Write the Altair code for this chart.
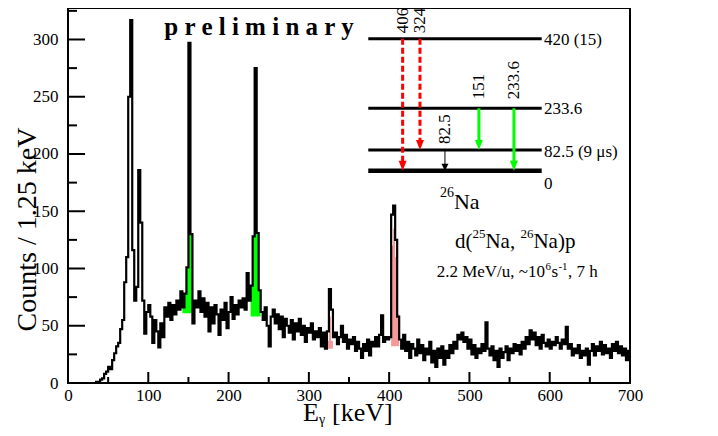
import altair as alt
import pandas as pd

FONT = "Liberation Serif"
W, H = 562, 375
X_DOMAIN = [0, 700]
Y_DOMAIN = [0, 327.5]
BIN_KEV = 2.5

# gamma spectrum, counts per bin (bins of 2.5 keV starting at 0 keV)
counts = [
    0, 0, 0, 0, 0, 0, 0, 0,
    0, 0, 0, 0, 0, 0, 1, 1,
    3, 4, 8, 10, 14, 12, 20, 26,
    32, 35, 47, 55, 88, 110, 250, 317,
    116, 72, 84, 186, 140, 72, 43, 62,
    68, 58, 35, 55, 45, 31, 52, 40,
    66, 58, 70, 55, 68, 60, 72, 64,
    80, 66, 78, 101, 297, 130, 52, 72,
    66, 80, 62, 74, 58, 70, 45, 66,
    52, 68, 60, 42, 64, 55, 70, 48,
    62, 75, 56, 68, 60, 72, 66, 74,
    64, 96, 72, 85, 128, 275, 131, 81,
    62, 55, 66, 50, 32, 58, 64, 52,
    60, 47, 58, 40, 56, 50, 44, 55,
    38, 52, 45, 56, 42, 50, 36, 48,
    44, 52, 38, 45, 40, 48, 32, 44,
    30, 45, 82, 64, 40, 44, 34, 40,
    50, 36, 42, 30, 38, 34, 40, 28,
    36, 30, 22, 34, 28, 38, 24, 36,
    32, 40, 32, 42, 59, 36, 40, 38,
    40, 147, 155, 125, 58, 38, 30, 42,
    28, 36, 22, 34, 30, 24, 38, 26,
    33, 20, 30, 25, 36, 18, 28, 14,
    30, 22, 32, 16, 28, 22, 33, 26,
    36, 30, 42, 38, 44, 36, 40, 30,
    38, 25, 33, 22, 30, 26, 34, 28,
    53, 30, 24, 32, 20, 28, 14, 30,
    22, 27, 32, 20, 30, 26, 34, 28,
    33, 25, 36, 30, 40, 34, 46, 38,
    44, 33, 40, 30, 42, 35, 32, 38,
    30, 36, 33, 40, 35, 30, 38, 34,
    49, 30, 34, 24, 30, 26, 33, 22,
    28, 24, 30, 16, 28, 34, 24, 32,
    28, 36, 25, 33, 26, 30, 22, 34,
    28, 36, 26, 32, 24, 30, 20, 28,
]

x_major = [0, 100, 200, 300, 400, 500, 600, 700]
x_minor = [50, 150, 250, 350, 450, 550, 650]
y_major = [0, 50, 100, 150, 200, 250, 300]
y_minor = [25, 75, 125, 175, 225, 275, 325]

# green gated peaks: (start keV, end keV, baseline counts)
green_regions = [(142.5, 155.0, 61), (227.5, 240.0, 58)]
# red hatched peaks
red_E = [[322.5, 325.0, 327.5], [402.5, 405.0, 407.5, 410.0]]
red_top = [[37, 58, 37], [120, 135, 110, 60]]
red_base = [30, 32]

# level scheme inset (drawn in data coordinates)
level_x = [374, 590]
level_y = [300.7, 239.9, 203.5, 185.4]
level_names = ["420 (15)", "233.6", "82.5 (9 μs)", "0"]
level_label_y = [299.6, 239.6, 201.7, 173.8]
level_label_x = 592.8

arrow_x = [416.8, 438.4, 469.5, 511.8, 555.4]
arrow_from = [300.7, 300.7, 203.5, 239.9, 239.9]
arrow_to = [185.4, 203.5, 185.4, 203.5, 185.4]
arrow_kind = ["red", "red", "black", "green", "green"]
arrow_label = ["406", "324", "82.5", "151", "233.6"]
arrow_label_y = [305.5, 305.5, 208.7, 247.8, 247.8]

xs = alt.Scale(domain=X_DOMAIN, nice=False, zero=False)
ys = alt.Scale(domain=Y_DOMAIN, nice=False, zero=False)

x_axis = alt.Axis(values=x_major, ticks=False, domain=False, grid=False,
                  labelFont=FONT, labelFontSize=17, labelColor="black",
                  labelPadding=4, title=None, format="d", labelFlush=False)
y_axis = alt.Axis(values=y_major, ticks=False, domain=False, grid=False,
                  labelFont=FONT, labelFontSize=17, labelColor="black",
                  labelPadding=10, format="d", labelFlush=False,
                  title="Counts / 1.25 keV", titleFont=FONT, titleFontSize=28,
                  titleFontWeight="normal", titleColor="black",
                  titleX=-33, titleY=221, titleAngle=270,
                  titleAlign="center", titleBaseline="alphabetic")


def X(f):
    return alt.X(f, scale=xs, axis=None)


def Y(f):
    return alt.Y(f, scale=ys, axis=None)


energies = [i * BIN_KEV for i in range(len(counts))]
spec_df = pd.DataFrame({"E": energies + [X_DOMAIN[1]], "C": counts + [counts[-1]]})

# green fills (this layer carries the axes)
grows = []
for gi, (e0, e1, base) in enumerate(green_regions):
    for e, c in zip(energies, counts):
        if e0 <= e < e1:
            grows.append({"g": gi, "E": e, "top": c, "base": base})
    grows.append({"g": gi, "E": e1, "top": grows[-1]["top"], "base": base})
green = alt.Chart(pd.DataFrame(grows)).mark_area(interpolate="step-after", color="#00ff00").encode(
    x=alt.X("E:Q", scale=xs, axis=x_axis),
    y=alt.Y("top:Q", scale=ys, axis=y_axis),
    y2="base:Q", detail="g:N")

rrows = []
for gi, (es, ts, base) in enumerate(zip(red_E, red_top, red_base)):
    for e, t in zip(es, ts):
        rrows.append({"g": gi, "E": e, "top": t, "base": base})
    rrows.append({"g": gi, "E": es[-1] + BIN_KEV, "top": ts[-1], "base": base})
red = alt.Chart(pd.DataFrame(rrows)).mark_area(interpolate="step-after", color="#f49a9a").encode(
    x=X("E:Q"), y=Y("top:Q"), y2="base:Q", detail="g:N")

line = alt.Chart(spec_df).mark_line(interpolate="step-after", color="black", strokeWidth=2.2).encode(
    x=X("E:Q"), y=Y("C:Q"))


# inward ticks
def yticks(vals, length):
    return alt.Chart(pd.DataFrame({"v": vals})).mark_rule(color="black", strokeWidth=2).encode(
        y=Y("v:Q"), x=alt.value(0), x2=alt.value(length))


def xticks(vals, length):
    return alt.Chart(pd.DataFrame({"v": vals})).mark_rule(color="black", strokeWidth=2).encode(
        x=X("v:Q"), y=alt.value(H), y2=alt.value(H - length))


ticks = [yticks(y_major, 17), yticks(y_minor, 9), xticks(x_major, 11), xticks(x_minor, 6)]

# level lines
lev_df = pd.DataFrame({"y": level_y, "x1": level_x[0], "x2": level_x[1], "w": [3, 3, 3, 4.5]})
levels = alt.Chart(lev_df).mark_rule(color="black").encode(
    x=X("x1:Q"), x2="x2:Q", y=Y("y:Q"), strokeWidth=alt.StrokeWidth("w:Q", scale=None))

PX_PER_COUNT = H / (Y_DOMAIN[1] - Y_DOMAIN[0])
arr_df = pd.DataFrame({"x": arrow_x, "y0": arrow_from, "y1": arrow_to, "k": arrow_kind,
                       "lab": arrow_label, "ly": arrow_label_y})
arr_df["head"] = [y + (5.0 if k != "black" else 3.5) / PX_PER_COUNT for y, k in zip(arr_df.y1, arr_df.k)]

TRI = "M-0.8,-1L0.8,-1L0,1Z"
TRI_B = "M-1,-1L1,-1L0,1Z"
red_shaft = alt.Chart(arr_df[arr_df.k == "red"]).mark_rule(color="#ff0000", strokeWidth=3, strokeDash=[6, 3]).encode(
    x=X("x:Q"), y=Y("y0:Q"), y2="head:Q")
green_shaft = alt.Chart(arr_df[arr_df.k == "green"]).mark_rule(color="#00ff00", strokeWidth=3).encode(
    x=X("x:Q"), y=Y("y0:Q"), y2="head:Q")
black_shaft = alt.Chart(arr_df[arr_df.k == "black"]).mark_rule(color="black", strokeWidth=1).encode(
    x=X("x:Q"), y=Y("y0:Q"), y2="head:Q")
red_head = alt.Chart(arr_df[arr_df.k == "red"]).mark_point(shape=TRI, filled=True, size=100, color="#ff0000", opacity=1).encode(
    x=X("x:Q"), y=Y("head:Q"))
green_head = alt.Chart(arr_df[arr_df.k == "green"]).mark_point(shape=TRI, filled=True, size=100, color="#00ff00", opacity=1).encode(
    x=X("x:Q"), y=Y("head:Q"))
black_head = alt.Chart(arr_df[arr_df.k == "black"]).mark_point(shape=TRI_B, filled=True, size=49, color="black", opacity=1).encode(
    x=X("x:Q"), y=Y("head:Q"))

arrow_text = alt.Chart(arr_df).mark_text(font=FONT, fontSize=17, align="left", baseline="middle", angle=270, color="black").encode(
    x=X("x:Q"), y=Y("ly:Q"), text="lab:N")

lev_text = alt.Chart(pd.DataFrame({"x": level_label_x, "y": level_label_y, "t": level_names})).mark_text(
    font=FONT, fontSize=17, align="left", baseline="middle", color="black").encode(
    x=X("x:Q"), y=Y("y:Q"), text="t:N")

# free texts (data coordinates)
texts = [
    # text, x, y, size, align, weight
    ("p r e l i m i n a r y", 237.9, 303.9, 25, "center", "bold"),
    ("Na", 480.7, 151.9, 22, "left", "normal"),
    ("26", 480.7, 162.4, 14, "right", "normal"),
    ("d(", 481.9, 117.6, 21, "left", "normal"),
    ("25", 503.7, 126.6, 13, "left", "normal"),
    ("Na,", 519.9, 117.6, 21, "left", "normal"),
    ("26", 563.5, 126.6, 13, "left", "normal"),
    ("Na)p", 579.7, 117.6, 21, "left", "normal"),
    ("2.2 MeV/u, ~10", 459.2, 92.8, 17, "left", "normal"),
    ("6", 594.6, 98.5, 11, "left", "normal"),
    ("s", 602.1, 92.8, 17, "left", "normal"),
    ("-1", 610.8, 98.5, 11, "left", "normal"),
    (", 7 h", 622.7, 92.8, 17, "left", "normal"),
]
text_layers = []
for t, x, y, s, a, w in texts:
    text_layers.append(
        alt.Chart(pd.DataFrame({"x": [x], "y": [y], "t": [t]})).mark_text(
            font=FONT, fontSize=s, align=a, baseline="alphabetic", fontWeight=w, color="black").encode(
            x=X("x:Q"), y=Y("y:Q"), text="t:N"))

# x-axis title with subscript gamma
xtitle = [
    alt.Chart(pd.DataFrame({"t": ["E"]})).mark_text(font=FONT, fontSize=26, align="left", baseline="alphabetic", color="black").encode(
        x=alt.value(235), y=alt.value(413), text="t:N"),
    alt.Chart(pd.DataFrame({"t": ["γ"]})).mark_text(font=FONT, fontSize=14, align="left", baseline="alphabetic", color="black").encode(
        x=alt.value(251), y=alt.value(416), text="t:N"),
    alt.Chart(pd.DataFrame({"t": ["[keV]"]})).mark_text(font=FONT, fontSize=26, align="left", baseline="alphabetic", color="black").encode(
        x=alt.value(264), y=alt.value(413), text="t:N"),
]

chart = alt.layer(
    green, red, line, *ticks, levels,
    red_shaft, green_shaft, black_shaft, red_head, green_head, black_head,
    arrow_text, lev_text, *text_layers, *xtitle,
).resolve_axis(x="independent", y="independent").properties(
    width=W, height=H,
    autosize=alt.AutoSizeParams(type="none"),
    padding={"left": 60, "top": 0, "right": 20, "bottom": 45},
    background="white",
).configure_view(stroke="black", strokeWidth=2)

chart.save("out.html", embed_options={"renderer": "svg", "actions": False})
